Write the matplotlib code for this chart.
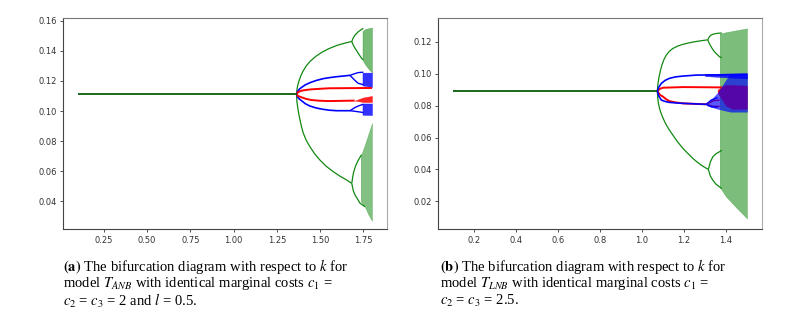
import matplotlib
matplotlib.use("Agg")
import matplotlib.pyplot as plt

plt.rcParams['mathtext.fontset'] = 'stix'

# ---------------- Panel (a): model T_ANB ----------------
a_fixed_k = [0.1, 1.364]
a_fixed_v = [0.1113, 0.1113]

a_green_up_k = [1.364, 1.366, 1.370, 1.378, 1.388, 1.400, 1.420, 1.445, 1.475, 1.510, 1.550, 1.600, 1.640, 1.683]
a_green_up_v = [0.1113, 0.1140, 0.1168, 0.1200, 0.1232, 0.1262, 0.1300, 0.1333, 0.1363, 0.1390, 0.1414, 0.1437, 0.1450, 0.1462]
a_green_up_eye_top_k = [1.683, 1.692, 1.702, 1.721, 1.750]
a_green_up_eye_top_v = [0.1462, 0.1487, 0.1505, 0.1527, 0.1550]
a_green_up_eye_bot_k = [1.683, 1.692, 1.702, 1.721, 1.740, 1.750]
a_green_up_eye_bot_v = [0.1462, 0.1437, 0.1417, 0.1383, 0.1350, 0.1340]

a_green_lo_k = [1.364, 1.366, 1.370, 1.376, 1.384, 1.393, 1.403, 1.420, 1.441, 1.468, 1.499, 1.535, 1.576, 1.615, 1.654, 1.683]
a_green_lo_v = [0.1113, 0.1060, 0.1029, 0.0985, 0.0940, 0.0893, 0.0852, 0.0805, 0.0763, 0.0716, 0.0674, 0.0633, 0.0597, 0.0567, 0.0541, 0.0519]
a_green_lo_eye_top_k = [1.683, 1.692, 1.705, 1.721, 1.740]
a_green_lo_eye_top_v = [0.0519, 0.0585, 0.0635, 0.0674, 0.0710]
a_green_lo_eye_bot_k = [1.683, 1.692, 1.702, 1.731, 1.760]
a_green_lo_eye_bot_v = [0.0519, 0.0470, 0.0442, 0.0387, 0.0364]

a_green_chaos_up_k = [1.745, 1.760, 1.780, 1.800]
a_green_chaos_up_top = [0.1530, 0.1545, 0.1550, 0.1555]
a_green_chaos_up_bot = [0.1340, 0.1310, 0.1280, 0.1255]
a_green_chaos_lo_k = [1.735, 1.760, 1.780, 1.800]
a_green_chaos_lo_top = [0.0700, 0.0780, 0.0850, 0.0920]
a_green_chaos_lo_bot = [0.0400, 0.0360, 0.0310, 0.0270]

a_blue_up_k = [1.364, 1.370, 1.380, 1.393, 1.415, 1.441, 1.478, 1.518, 1.556, 1.596, 1.640, 1.673]
a_blue_up_v = [0.1113, 0.1130, 0.1145, 0.1157, 0.1174, 0.1188, 0.1203, 0.1215, 0.1222, 0.1228, 0.1233, 0.1237]
a_blue_up_eye_k = [1.673, 1.700, 1.720, 1.750]
a_blue_up_eye_top = [0.1237, 0.1248, 0.1255, 0.1258]
a_blue_up_eye_bot = [0.1237, 0.1205, 0.1184, 0.1175]
a_blue_lo_k = [1.364, 1.370, 1.380, 1.393, 1.415, 1.441, 1.478, 1.518, 1.556, 1.596, 1.673]
a_blue_lo_v = [0.1113, 0.1094, 0.1080, 0.1068, 0.1048, 0.1033, 0.1020, 0.1011, 0.1005, 0.1002, 0.1002]
a_blue_lo_eye_k = [1.673, 1.700, 1.720, 1.750]
a_blue_lo_eye_top = [0.1002, 0.1022, 0.1033, 0.1045]
a_blue_lo_eye_bot = [0.1002, 0.0998, 0.0995, 0.0990]
a_blue_chaos_k = [1.745, 1.800]
a_blue_chaos_up_top = [0.1255, 0.1255]
a_blue_chaos_up_bot = [0.1170, 0.1160]
a_blue_chaos_lo_top = [0.1050, 0.1050]
a_blue_chaos_lo_bot = [0.0975, 0.0973]

a_red_up_k = [1.364, 1.372, 1.393, 1.420, 1.450, 1.550, 1.800]
a_red_up_v = [0.1113, 0.1125, 0.1135, 0.1140, 0.1144, 0.1151, 0.1153]
a_red_lo_k = [1.364, 1.372, 1.393, 1.420, 1.450, 1.500, 1.550, 1.700]
a_red_lo_v = [0.1113, 0.1100, 0.1091, 0.1080, 0.1073, 0.1068, 0.1066, 0.1069]
a_red_chaos_k = [1.700, 1.750, 1.800]
a_red_chaos_top = [0.1069, 0.1090, 0.1100]
a_red_chaos_bot = [0.1069, 0.1060, 0.1060]

# ---------------- Panel (b): model T_LNB ----------------
b_fixed_k = [0.1, 1.073]
b_fixed_v = [0.0891, 0.0891]

b_green_up_k = [1.073, 1.075, 1.078, 1.082, 1.088, 1.095, 1.105, 1.116, 1.130, 1.147, 1.170, 1.195, 1.220, 1.250, 1.285, 1.313]
b_green_up_v = [0.0891, 0.0925, 0.0955, 0.0985, 0.1020, 0.1055, 0.1090, 0.1117, 0.1140, 0.1158, 0.1173, 0.1184, 0.1192, 0.1200, 0.1207, 0.1212]
b_green_up_eye_top_k = [1.313, 1.320, 1.329, 1.345, 1.361, 1.380]
b_green_up_eye_top_v = [0.1212, 0.1230, 0.1242, 0.1250, 0.1253, 0.1255]
b_green_up_eye_bot_k = [1.313, 1.322, 1.333, 1.345, 1.369, 1.380]
b_green_up_eye_bot_v = [0.1212, 0.1185, 0.1160, 0.1137, 0.1106, 0.1100]

b_green_lo_k = [1.073, 1.075, 1.078, 1.083, 1.090, 1.100, 1.112, 1.128, 1.147, 1.170, 1.195, 1.220, 1.242, 1.262, 1.282, 1.300, 1.316]
b_green_lo_v = [0.0891, 0.0850, 0.0818, 0.0785, 0.0755, 0.0722, 0.0688, 0.0652, 0.0615, 0.0572, 0.0532, 0.0498, 0.0469, 0.0447, 0.0427, 0.0412, 0.0400]
b_green_lo_eye_top_k = [1.316, 1.325, 1.337, 1.352, 1.369, 1.380]
b_green_lo_eye_top_v = [0.0400, 0.0445, 0.0479, 0.0498, 0.0511, 0.0520]
b_green_lo_eye_bot_k = [1.316, 1.325, 1.337, 1.352, 1.369, 1.380]
b_green_lo_eye_bot_v = [0.0400, 0.0360, 0.0333, 0.0308, 0.0291, 0.0280]

b_green_chaos_k = [1.370, 1.400, 1.450, 1.500]
b_green_chaos_top = [0.1250, 0.1260, 0.1272, 0.1284]
b_green_chaos_bot = [0.0290, 0.0230, 0.0160, 0.0093]

b_blue_up_k = [1.073, 1.080, 1.092, 1.110, 1.131, 1.160, 1.195, 1.258, 1.500]
b_blue_up_v = [0.0891, 0.0915, 0.0939, 0.0958, 0.0971, 0.0980, 0.0985, 0.0991, 0.0995]
b_blue_band_k = [1.300, 1.500]
b_blue_band_top = [0.0998, 0.1003]
b_blue_band_bot = [0.0985, 0.0970]
b_blue_lo_k = [1.073, 1.080, 1.092, 1.110, 1.131, 1.160, 1.195, 1.305]
b_blue_lo_v = [0.0891, 0.0860, 0.0835, 0.0826, 0.0820, 0.0817, 0.0814, 0.0808]
b_blue_eye_k = [1.305, 1.330, 1.360]
b_blue_eye_top = [0.0808, 0.0835, 0.0850]
b_blue_eye_bot = [0.0808, 0.0793, 0.0790]
b_blue_chaos_k = [1.310, 1.360, 1.420, 1.500]
b_blue_chaos_top = [0.0808, 0.0880, 0.1000, 0.1000]
b_blue_chaos_bot = [0.0800, 0.0780, 0.0762, 0.0762]

b_red_up_k = [1.073, 1.085, 1.100, 1.195, 1.300, 1.500]
b_red_up_v = [0.0891, 0.0905, 0.0912, 0.0916, 0.0915, 0.0912]
b_red_lo_k = [1.073, 1.085, 1.100, 1.115, 1.131, 1.160, 1.195, 1.305]
b_red_lo_v = [0.0891, 0.0868, 0.0856, 0.0840, 0.0828, 0.0820, 0.0814, 0.0808]
b_red_eye_k = [1.305, 1.340, 1.370]
b_red_eye_top = [0.0808, 0.0830, 0.0835]
b_red_eye_bot = [0.0808, 0.0795, 0.0795]
b_red_chaos_k = [1.360, 1.400, 1.430, 1.500]
b_red_chaos_top = [0.0900, 0.0930, 0.0930, 0.0925]
b_red_chaos_bot = [0.0880, 0.0800, 0.0780, 0.0780]

a_xticks = [0.25, 0.50, 0.75, 1.00, 1.25, 1.50, 1.75]
a_yticks = [0.04, 0.06, 0.08, 0.10, 0.12, 0.14, 0.16]
b_xticks = [0.2, 0.4, 0.6, 0.8, 1.0, 1.2, 1.4]
b_yticks = [0.02, 0.04, 0.06, 0.08, 0.10, 0.12]

cap_a = [r"$\mathbf{(a)}$ The bifurcation diagram with respect to $k$ for",
         r"model $T_{ANB}$ with identical marginal costs $c_1$ =",
         r"$c_2$ = $c_3$ = 2 and $l$ = 0.5."]
cap_b = [r"$\mathbf{(b)}$ The bifurcation diagram with respect to $k$ for",
         r"model $T_{LNB}$ with identical marginal costs $c_1$ =",
         r"$c_2$ = $c_3$ = 2.5."]

GREEN = "#118811"
BLUE = "#0000ff"
RED = "#ff0000"

fig = plt.figure(figsize=(7.89, 3.16), dpi=100)
axa = fig.add_axes([0.0802, 0.2744, 0.4099, 0.6677])
axb = fig.add_axes([0.5555, 0.2744, 0.4099, 0.6677])


def line(ax, k, v, c, lw=0.9, z=4, a=1.0):
    ax.plot(k, v, color=c, lw=lw, zorder=z, alpha=a, solid_capstyle='butt')


def band(ax, k, lo, hi, c, a, z):
    ax.fill_between(k, lo, hi, color=c, alpha=a, lw=0.3, zorder=z)


# panel a
band(axa, a_green_chaos_up_k, a_green_chaos_up_bot, a_green_chaos_up_top, GREEN, 0.58, 1)
band(axa, a_green_chaos_lo_k, a_green_chaos_lo_bot, a_green_chaos_lo_top, GREEN, 0.52, 1)
line(axa, a_green_up_k, a_green_up_v, GREEN)
line(axa, a_green_up_eye_top_k, a_green_up_eye_top_v, GREEN)
line(axa, a_green_up_eye_bot_k, a_green_up_eye_bot_v, GREEN)
line(axa, a_green_lo_k, a_green_lo_v, GREEN)
line(axa, a_green_lo_eye_top_k, a_green_lo_eye_top_v, GREEN)
line(axa, a_green_lo_eye_bot_k, a_green_lo_eye_bot_v, GREEN)
band(axa, a_blue_chaos_k, a_blue_chaos_up_bot, a_blue_chaos_up_top, BLUE, 0.8, 5)
band(axa, a_blue_chaos_k, a_blue_chaos_lo_bot, a_blue_chaos_lo_top, BLUE, 0.8, 5)
line(axa, a_blue_up_k, a_blue_up_v, BLUE, 1.2, 5)
line(axa, a_blue_up_eye_k, a_blue_up_eye_top, BLUE, 1.0, 5)
line(axa, a_blue_up_eye_k, a_blue_up_eye_bot, BLUE, 1.0, 5)
line(axa, a_blue_lo_k, a_blue_lo_v, BLUE, 1.2, 5)
line(axa, a_blue_lo_eye_k, a_blue_lo_eye_top, BLUE, 1.0, 5)
line(axa, a_blue_lo_eye_k, a_blue_lo_eye_bot, BLUE, 1.0, 5)
line(axa, a_red_up_k, a_red_up_v, RED, 1.4, 6)
line(axa, a_red_lo_k, a_red_lo_v, RED, 1.4, 6)
band(axa, a_red_chaos_k, a_red_chaos_bot, a_red_chaos_top, RED, 0.85, 6)
line(axa, a_fixed_k, a_fixed_v, "#0b5d0b", 1.3, 7)

# panel b
band(axb, b_green_chaos_k, b_green_chaos_bot, b_green_chaos_top, GREEN, 0.55, 1)
line(axb, b_green_up_k, b_green_up_v, GREEN)
line(axb, b_green_up_eye_top_k, b_green_up_eye_top_v, GREEN)
line(axb, b_green_up_eye_bot_k, b_green_up_eye_bot_v, GREEN)
line(axb, b_green_lo_k, b_green_lo_v, GREEN)
line(axb, b_green_lo_eye_top_k, b_green_lo_eye_top_v, GREEN)
line(axb, b_green_lo_eye_bot_k, b_green_lo_eye_bot_v, GREEN)
band(axb, b_red_chaos_k, b_red_chaos_bot, b_red_chaos_top, RED, 0.9, 4)
line(axb, b_red_up_k, b_red_up_v, RED, 1.4, 4)
line(axb, b_red_lo_k, b_red_lo_v, RED, 1.4, 4)
line(axb, b_red_eye_k, b_red_eye_top, RED, 1.0, 4)
line(axb, b_red_eye_k, b_red_eye_bot, RED, 1.0, 4)
band(axb, b_blue_chaos_k, b_blue_chaos_bot, b_blue_chaos_top, BLUE, 0.65, 5)
band(axb, b_blue_band_k, b_blue_band_bot, b_blue_band_top, BLUE, 0.8, 5)
line(axb, b_blue_up_k, b_blue_up_v, BLUE, 1.2, 5)
line(axb, b_blue_lo_k, b_blue_lo_v, BLUE, 1.2, 5)
line(axb, b_blue_eye_k, b_blue_eye_top, BLUE, 1.0, 5)
line(axb, b_blue_eye_k, b_blue_eye_bot, BLUE, 1.0, 5)
line(axb, b_fixed_k, b_fixed_v, "#0b5d0b", 1.3, 7)

axa.set_xlim(0.015, 1.885)
axa.set_ylim(0.0214, 0.1616)
axb.set_xlim(0.03, 1.57)
axb.set_ylim(0.0025, 0.1347)
axa.set_xticks(a_xticks)
axa.set_yticks(a_yticks)
axb.set_xticks(b_xticks)
axb.set_yticks(b_yticks)

for ax in (axa, axb):
    ax.tick_params(labelsize=6, colors="#333333", length=2.5, width=0.6, pad=2)
    for s in ("left", "bottom"):
        ax.spines[s].set_color("#444444")
        ax.spines[s].set_linewidth(0.8)
    ax.spines["top"].set_color("#777777")
    ax.spines["right"].set_color("#aaaaaa")
    ax.spines["top"].set_linewidth(0.8)
    ax.spines["right"].set_linewidth(0.8)

cap_props = dict(fontsize=10.5, family="Liberation Serif", color="black", va="center", ha="left")
for i, t in enumerate(cap_a):
    fig.text(63 / 789, 1 - (267 + 17 * i) / 316, t, **cap_props)
for i, t in enumerate(cap_b):
    fig.text(440 / 789, 1 - (267 + 17 * i) / 316, t, **cap_props)

fig.savefig("out.png", dpi=100)
